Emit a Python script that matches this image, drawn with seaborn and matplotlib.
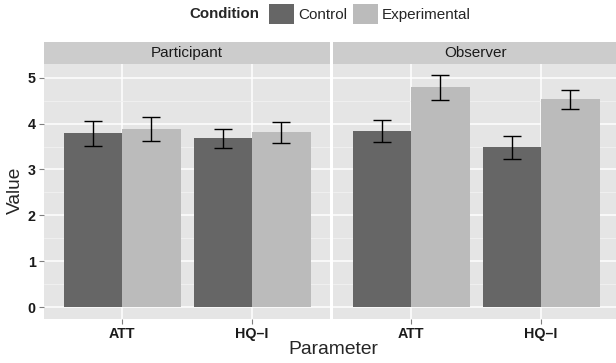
import matplotlib
matplotlib.use("Agg")
import matplotlib.pyplot as plt
from matplotlib.patches import Patch
import seaborn as sns
import pandas as pd
import numpy as np

# ---- data ----
perspectives = ["Participant", "Observer"]
parameters = ["ATT", "HQ\u2013I"]
conditions = ["Control", "Experimental"]

# order: ATT Control, ATT Experimental, HQ-I Control, HQ-I Experimental
participant_values = [3.79, 3.89, 3.68, 3.81]
participant_lower = [3.52, 3.63, 3.46, 3.57]
participant_upper = [4.05, 4.15, 3.89, 4.04]

observer_values = [3.83, 4.79, 3.48, 4.53]
observer_lower = [3.59, 4.51, 3.22, 4.31]
observer_upper = [4.07, 5.06, 3.74, 4.73]

palette = {"Control": "#666666", "Experimental": "#BBBBBB"}

rows = []
for persp, vals, lo, hi in [("Participant", participant_values, participant_lower, participant_upper),
                            ("Observer", observer_values, observer_lower, observer_upper)]:
    i = 0
    for p in parameters:
        for c in conditions:
            rows.append(dict(Perspective=persp, Parameter=p, Condition=c,
                             Value=vals[i], lo=lo[i], hi=hi[i]))
            i += 1
df = pd.DataFrame(rows)

sns.set_theme(style="white")
plt.rcParams["font.family"] = ["Liberation Sans", "DejaVu Sans"]

W, H = 616, 363
fig = plt.figure(figsize=(W / 100, H / 100), dpi=100)

def fx(px):
    return px / W

def fy(py):
    return 1 - py / H

panel_top, panel_bot = 63.5, 318.7
strip_top = 42
panel_w = 286
lefts = [44, 333]

for k, persp in enumerate(perspectives):
    ax = fig.add_axes([fx(lefts[k]), fy(panel_bot), fx(panel_w), (panel_bot - panel_top) / H])
    ax.set_facecolor("#E5E5E5")
    sub = df[df.Perspective == persp]
    sns.barplot(data=sub, x="Parameter", y="Value", hue="Condition",
                order=parameters, hue_order=conditions, palette=palette,
                width=0.9, gap=0, saturation=1, errorbar=None, legend=False,
                linewidth=0, ax=ax, zorder=2)
    # error bars placed at the bar centres
    for cont, cond in zip(ax.containers, conditions):
        sc = sub[sub.Condition == cond].set_index("Parameter").loc[parameters]
        xs = [b.get_x() + b.get_width() / 2 for b in cont]
        ys = sc["Value"].values
        yerr = np.vstack([ys - sc["lo"].values, sc["hi"].values - ys])
        ax.errorbar(xs, ys, yerr=yerr, fmt="none", ecolor="black",
                    elinewidth=1.0, capsize=6.5, capthick=1.0, zorder=3)
    ax.set_xlim(-0.6, 1.6)
    ax.set_ylim(-0.253, 5.31)
    ax.set_yticks([0, 1, 2, 3, 4, 5])
    ax.set_yticks([0.5, 1.5, 2.5, 3.5, 4.5], minor=True)
    ax.grid(True, which="major", color="white", linewidth=1.1, zorder=0)
    ax.grid(True, which="minor", axis="y", color="#F2F2F2", linewidth=0.6, zorder=0)
    ax.set_axisbelow(True)
    for s in ax.spines.values():
        s.set_visible(False)
    ax.tick_params(axis="both", which="major", length=3.5, width=0.8, color="#7F7F7F",
                   labelsize=10.3, pad=2.5, bottom=True, left=(k == 0))
    ax.tick_params(which="minor", length=0)
    for lab in ax.get_xticklabels() + ax.get_yticklabels():
        lab.set_fontweight("bold")
        lab.set_color("#1A1A1A")
    if k > 0:
        ax.set_yticklabels([])
    ax.set_xlabel("")
    ax.set_ylabel("")

    # facet strip
    sax = fig.add_axes([fx(lefts[k]), fy(panel_top), fx(panel_w), (panel_top - strip_top) / H])
    sax.set_facecolor("#CCCCCC")
    sax.set_xticks([])
    sax.set_yticks([])
    for s in sax.spines.values():
        s.set_visible(False)
    sax.text(0.5, 0.5, persp, ha="center", va="center", fontsize=11, color="#1A1A1A",
             transform=sax.transAxes)

# axis titles
fig.text(fx(15), fy(190), "Value", rotation=90, ha="center", va="center", fontsize=13.8)
fig.text(fx(333), fy(350), "Parameter", ha="center", va="center", fontsize=13.9)

# legend
fig.text(fx(259), fy(14.5), "Condition", ha="right", va="center", fontsize=10.8, fontweight="bold")
handles = [Patch(facecolor=palette[c], edgecolor="none", label=c) for c in conditions]
leg = fig.legend(handles=handles, loc="center left", bbox_to_anchor=(fx(269), fy(14)),
                 ncol=2, frameon=False, fontsize=11, handlelength=1.63, handleheight=1.7,
                 handletextpad=0.26, columnspacing=0.4, borderpad=0, borderaxespad=0)

fig.savefig("out.png", dpi=100)
